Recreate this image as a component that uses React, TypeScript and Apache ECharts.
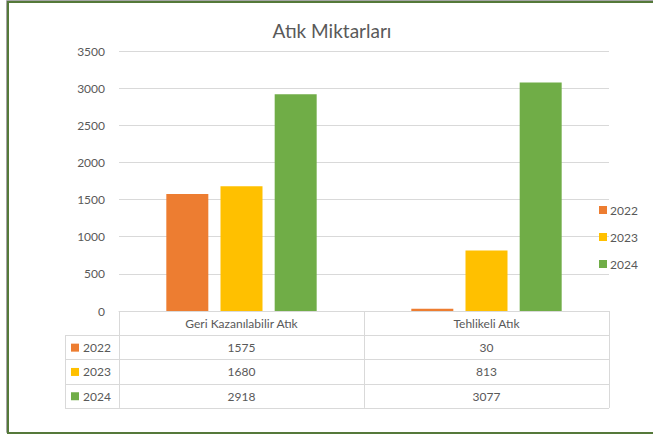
import React, { useEffect, useRef } from "react";
import * as echarts from "echarts";

const titleText = "Atık Miktarları";
const categories = ["Geri Kazanılabilir Atık", "Tehlikeli Atık"];
const years = ["2022", "2023", "2024"];
const values2022 = [1575, 30];
const values2023 = [1680, 813];
const values2024 = [2918, 3077];
const yearColors = ["#ED7D31", "#FFC000", "#70AD47"];
const yMax = 3500;
const yInterval = 500;

const W = 653;
const H = 434;
const FONT = "Lato, 'Noto Sans', sans-serif";
const TEXT = "#595959";
const LINE = "#d9d9d9";

export default function App() {
  const ref = useRef<HTMLDivElement>(null);

  useEffect(() => {
    document.body.style.margin = "0";
    if (!ref.current) return;
    const chart = echarts.init(ref.current, null, { renderer: "svg" });

    const gridLeft = 119;
    const gridRight = 44;
    const gridTop = 51;
    const gridBottom = 123;
    const plotRight = W - gridRight;
    const axisY = H - gridBottom;
    const headerH = 24;
    const rowH = 24.3;
    const legendColLeft = 65;
    const catW = (plotRight - gridLeft) / categories.length;

    const seriesValues = [values2022, values2023, values2024];

    const graphics: any[] = [];
    graphics.push({
      type: "rect",
      shape: { x: 6.5, y: 0.5, width: 700, height: 432 },
      style: { fill: "none", stroke: "#a6a6a6", lineWidth: 1 },
      silent: true,
    });
    graphics.push({
      type: "rect",
      shape: { x: 8, y: 2, width: 700, height: 431 },
      style: { fill: "none", stroke: "#55793a", lineWidth: 2 },
      silent: true,
    });
    graphics.push({
      type: "text",
      x: 332,
      y: 30,
      style: {
        text: titleText,
        fill: TEXT,
        font: `19px ${FONT}`,
        align: "center",
        verticalAlign: "middle",
      },
    });

    const tableBottom = axisY + headerH + rowH * years.length;
    for (let r = 0; r <= years.length; r++) {
      const y = Math.round(axisY + headerH + rowH * r) + 0.5;
      graphics.push({
        type: "line",
        shape: { x1: legendColLeft, y1: y, x2: plotRight, y2: y },
        style: { stroke: LINE, lineWidth: 1 },
        silent: true,
      });
    }
    graphics.push({
      type: "line",
      shape: {
        x1: legendColLeft + 0.5,
        y1: axisY + headerH,
        x2: legendColLeft + 0.5,
        y2: tableBottom + 0.5,
      },
      style: { stroke: LINE, lineWidth: 1 },
      silent: true,
    });
    years.forEach((yr, r) => {
      const cy = axisY + headerH + rowH * (r + 0.5) + 0.5;
      graphics.push({
        type: "rect",
        shape: { x: 71, y: cy - 4, width: 8, height: 8 },
        style: { fill: yearColors[r] },
        silent: true,
      });
      graphics.push({
        type: "text",
        x: 83,
        y: cy,
        style: {
          text: yr,
          fill: TEXT,
          font: `12px ${FONT}`,
          align: "left",
          verticalAlign: "middle",
        },
      });
      categories.forEach((_, c) => {
        graphics.push({
          type: "text",
          x: gridLeft + catW * (c + 0.5),
          y: cy,
          style: {
            text: String(seriesValues[r][c]),
            fill: TEXT,
            font: `12px ${FONT}`,
            align: "center",
            verticalAlign: "middle",
          },
        });
      });
    });

    const option: any = {
      animation: false,
      backgroundColor: "#ffffff",
      textStyle: { fontFamily: FONT },
      grid: {
        left: gridLeft,
        right: gridRight,
        top: gridTop,
        bottom: gridBottom,
        containLabel: false,
      },
      legend: {
        orient: "vertical",
        left: 599,
        top: 204,
        itemWidth: 8,
        itemHeight: 8,
        itemGap: 15,
        icon: "rect",
        padding: 0,
        data: years,
        textStyle: { color: TEXT, fontSize: 12, fontFamily: FONT, padding: [0, 0, 0, -2] },
      },
      xAxis: {
        type: "category",
        data: categories,
        axisLine: { show: true, lineStyle: { color: LINE, width: 1 } },
        axisTick: {
          show: true,
          interval: 0,
          length: headerH + rowH * years.length,
          lineStyle: { color: LINE, width: 1 },
        },
        axisLabel: {
          color: TEXT,
          fontSize: 12,
          fontFamily: FONT,
          margin: 6,
          interval: 0,
        },
      },
      yAxis: {
        type: "value",
        min: 0,
        max: yMax,
        interval: yInterval,
        axisLine: { show: false },
        axisTick: { show: false },
        axisLabel: {
          color: TEXT,
          fontSize: 12,
          fontFamily: FONT,
          margin: 14,
          formatter: (v: number) => String(v),
        },
        splitLine: { lineStyle: { color: LINE, width: 1 } },
      },
      series: years.map((yr, i) => ({
        name: yr,
        type: "bar",
        data: seriesValues[i],
        barWidth: 42,
        barGap: "29%",
        itemStyle: { color: yearColors[i] },
      })),
      graphic: graphics,
    };

    chart.setOption(option);
    return () => chart.dispose();
  }, []);

  return <div ref={ref} style={{ width: W, height: H }} />;
}
